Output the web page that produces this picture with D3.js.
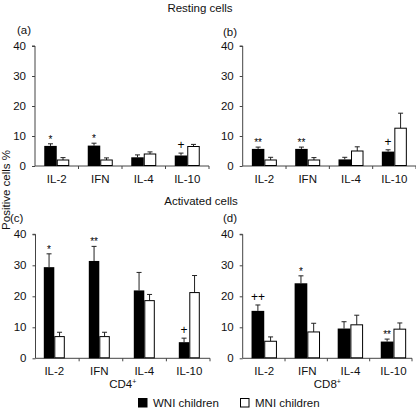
<!DOCTYPE html>
<html>
<head>
<meta charset="utf-8">
<script src="https://cdn.jsdelivr.net/npm/d3@7"></script>
<style>
  html, body { margin: 0; padding: 0; background: #fff; }
  svg { display: block; font-family: "Liberation Sans", Arial, Helvetica, sans-serif; }
</style>
</head>
<body>
<svg id="chart" width="416" height="409"></svg>
<script>
// ---- data ----
const categories = ["IL-2", "IFN", "IL-4", "IL-10"];
const yTicks = [0, 10, 20, 30, 40];
const panelLabels = ["(a)", "(b)", "(c)", "(d)"];
const seriesNames = ["WNI children", "MNI children"];

// (a) resting CD4+
const wniA = [6.7, 6.8, 2.9, 3.5];
const wniAErr = [0.7, 0.8, 0.8, 0.8];
const mniA = [2.0, 2.0, 4.0, 6.5];
const mniAErr = [0.8, 0.7, 0.7, 0.7];
const sigA = ["*", "*", "", "+"];

// (b) resting CD8+
const wniB = [5.7, 5.7, 2.2, 4.8];
const wniBErr = [0.6, 0.6, 0.7, 0.6];
const mniB = [2.0, 2.0, 5.0, 12.6];
const mniBErr = [0.9, 0.8, 1.4, 5.0];
const sigB = ["**", "**", "", "+"];

// (c) activated CD4+
const wniC = [29.4, 31.4, 21.9, 5.2];
const wniCErr = [4.3, 4.7, 5.8, 1.3];
const mniC = [7.0, 7.0, 18.6, 21.2];
const mniCErr = [1.4, 1.4, 2.0, 5.5];
const sigC = ["*", "**", "", "+"];

// (d) activated CD8+
const wniD = [15.3, 24.2, 9.6, 5.4];
const wniDErr = [1.9, 2.4, 2.2, 0.8];
const mniD = [5.5, 8.5, 10.8, 9.4];
const mniDErr = [1.4, 2.8, 3.1, 2.0];
const sigD = ["++", "*", "", "**"];

const subsetLabels = ["", "", "CD4", "CD8"];

// ---- layout ----
const panels = [
  {label: panelLabels[0], wni: wniA, wniErr: wniAErr, mni: mniA, mniErr: mniAErr, sig: sigA, sub: subsetLabels[0],
   ax: 35, axEnd: 209, band: [35, 209], barW: 12.5, yTop: 46, yBot: 166, lx: 17, ly: 34},
  {label: panelLabels[1], wni: wniB, wniErr: wniBErr, mni: mniB, mniErr: mniBErr, sig: sigB, sub: subsetLabels[1],
   ax: 242.7, axEnd: 416, band: [242.7, 416], barW: 12.5, yTop: 46, yBot: 166, lx: 223, ly: 36},
  {label: panelLabels[2], wni: wniC, wniErr: wniCErr, mni: mniC, mniErr: mniCErr, sig: sigC, sub: subsetLabels[2],
   ax: 35.5, axEnd: 210, band: [31.8, 211.8], barW: 10.5, yTop: 234.3, yBot: 358.3, lx: 10, ly: 222},
  {label: panelLabels[3], wni: wniD, wniErr: wniDErr, mni: mniD, mniErr: mniDErr, sig: sigD, sub: subsetLabels[3],
   ax: 242.7, axEnd: 412, band: [242.7, 415], barW: 12.7, yTop: 234.3, yBot: 358.3, lx: 223, ly: 222}
];

const svg = d3.select("#chart");
const axisColor = "#444";
const fs = 11.5;

panels.forEach(p => {
  const g = svg.append("g");
  const x = d3.scaleBand().domain(categories).range(p.band).padding(0);
  const y = d3.scaleLinear().domain([0, 40]).range([p.yBot, p.yTop]);

  // y axis
  const yAxis = d3.axisLeft(y).tickValues(yTicks).tickSize(3).tickPadding(6);
  const ya = g.append("g").attr("transform", `translate(${p.ax},0)`).call(yAxis);
  ya.select(".domain").attr("stroke", axisColor).attr("d", `M0,${p.yBot}V${p.yTop}M-3,${p.yTop}H0`);
  ya.selectAll(".tick line").attr("stroke", axisColor);
  ya.selectAll(".tick text").attr("font-size", fs).attr("fill", "#111")
    .attr("font-family", "'Liberation Sans', Arial, sans-serif");

  // x axis line + boundary ticks
  g.append("line").attr("x1", p.ax).attr("x2", p.axEnd).attr("y1", p.yBot).attr("y2", p.yBot)
    .attr("stroke", axisColor).attr("stroke-width", 1);
  const xt = d3.scaleLinear().domain([0, 4]).range([p.ax, p.axEnd]);
  g.selectAll(".xtick").data([1, 2, 3, 4]).enter().append("line")
    .attr("x1", d => xt(d)).attr("x2", d => xt(d))
    .attr("y1", p.yBot).attr("y2", p.yBot + 3)
    .attr("stroke", axisColor);

  // category labels
  g.selectAll(".cat").data(categories).enter().append("text")
    .attr("x", d => x(d) + x.bandwidth() / 2)
    .attr("y", p.yBot + 16.5)
    .attr("text-anchor", "middle").attr("font-size", fs).attr("fill", "#111")
    .text(d => d);

  const cx = d => x(d) + x.bandwidth() / 2;

  // error bars (upward only)
  const drawErr = (vals, errs, off) => {
    g.selectAll(null).data(categories).enter().append("path")
      .attr("d", (d, i) => {
        const xc = cx(d) + off;
        const y0 = y(vals[i]);
        const y1 = y(vals[i] + errs[i]);
        return `M${xc},${y0}V${y1}M${xc - 2.5},${y1}H${xc + 2.5}`;
      })
      .attr("stroke", "#222").attr("stroke-width", 1).attr("fill", "none");
  };
  drawErr(p.wni, p.wniErr, -p.barW / 2);
  drawErr(p.mni, p.mniErr, p.barW / 2);

  // bars
  g.selectAll(".wni").data(categories).enter().append("rect")
    .attr("x", d => cx(d) - p.barW).attr("width", p.barW)
    .attr("y", (d, i) => y(p.wni[i])).attr("height", (d, i) => p.yBot - y(p.wni[i]))
    .attr("fill", "#000");
  g.selectAll(".mni").data(categories).enter().append("rect")
    .attr("x", d => cx(d) + 0.5).attr("width", p.barW - 1)
    .attr("y", (d, i) => y(p.mni[i])).attr("height", (d, i) => p.yBot - y(p.mni[i]) - 0.5)
    .attr("fill", "#fff").attr("stroke", "#000").attr("stroke-width", 1);

  // significance marks
  g.selectAll(".sig").data(categories).enter().append("text")
    .attr("x", d => cx(d) - p.barW / 2)
    .attr("y", (d, i) => {
      const top = y(p.wni[i] + p.wniErr[i]);
      return p.sig[i].includes("+") ? top - 4 : top - 1;
    })
    .attr("text-anchor", "middle")
    .attr("font-size", (d, i) => p.sig[i].includes("+") ? 12 : 10)
    .attr("fill", "#000")
    .text((d, i) => p.sig[i]);

  // panel label
  g.append("text").attr("x", p.lx).attr("y", p.ly).attr("font-size", fs).attr("fill", "#111").text(p.label);

  // subset label
  if (p.sub) {
    const t = g.append("text").attr("x", (p.ax + p.axEnd) / 2).attr("y", p.yBot + 29.5)
      .attr("text-anchor", "middle").attr("font-size", fs).attr("fill", "#111");
    t.append("tspan").text(p.sub);
    t.append("tspan").attr("font-size", 7).attr("dy", -4).text("+");
  }
});

// section titles
svg.append("text").attr("x", 200).attr("y", 12).attr("text-anchor", "middle")
  .attr("font-size", fs).attr("fill", "#111").text("Resting cells");
svg.append("text").attr("x", 201).attr("y", 205).attr("text-anchor", "middle")
  .attr("font-size", fs).attr("fill", "#111").text("Activated cells");

// y title
svg.append("text").attr("transform", "translate(9.5,190) rotate(-90)").attr("text-anchor", "middle")
  .attr("font-size", fs).attr("fill", "#111").text("Positive cells %");

// legend
const legendX = [138, 240];
seriesNames.forEach((n, i) => {
  svg.append("rect").attr("x", legendX[i] + 0.5).attr("y", 398.5).attr("width", 8.5).attr("height", 8.5)
    .attr("fill", i === 0 ? "#000" : "#fff").attr("stroke", "#000").attr("stroke-width", 1);
  svg.append("text").attr("x", legendX[i] + 15).attr("y", 407).attr("font-size", fs).attr("fill", "#111").text(n);
});
</script>
</body>
</html>
